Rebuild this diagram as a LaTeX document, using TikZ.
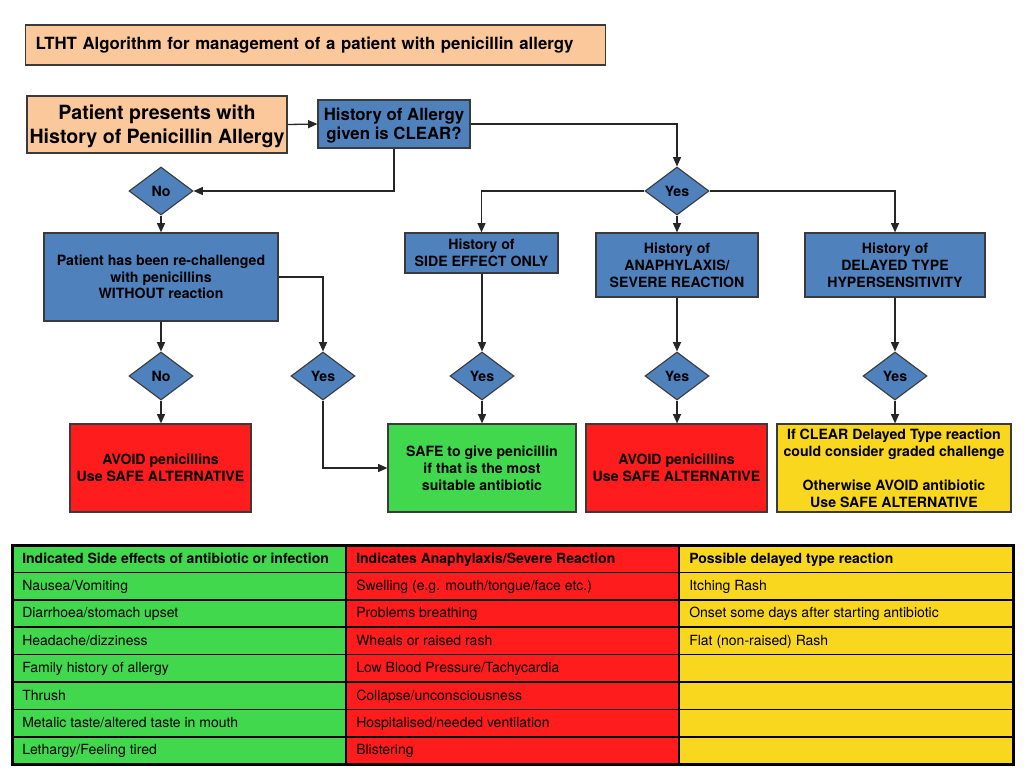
\documentclass[tikz,border=0pt]{standalone}
\usepackage{fontspec}
\setmainfont{TeX Gyre Heros}
\usetikzlibrary{shapes.geometric,arrows.meta}
\newlength\px
\setlength\px{0.75pt}
\definecolor{peach}{HTML}{FAC89A}
\definecolor{fblue}{HTML}{4F81BD}
\definecolor{fred}{HTML}{FF1C1C}
\definecolor{fgreen}{HTML}{42D84E}
\definecolor{fyellow}{HTML}{F9D71F}
\definecolor{edge}{HTML}{3A3A3A}
\tikzset{
  box/.style={draw=edge, line width=1.2\px, inner sep=1\px, align=center, font=\bfseries\fontsize{10.6}{12.7}\selectfont},
  bluebox/.style={box, fill=fblue},
  dia/.style={diamond, draw=edge, line width=1.1\px, fill=fblue, aspect=1.333, inner sep=0pt, minimum width=64\px, minimum height=48\px, font=\bfseries\fontsize{10.6}{12}\selectfont},
  arr/.style={draw=black!85, line width=1.3\px, -{Triangle[length=7pt,width=6pt]}},
  ln/.style={draw=black!85, line width=1.3\px},
  cell/.style={anchor=base west, inner sep=0pt, font=\fontsize{10.5}{12}\selectfont},
  hcell/.style={cell, font=\bfseries\fontsize{10.5}{12}\selectfont}
}
\begin{document}
\begin{tikzpicture}[x=\px, y=-\px]
\useasboundingbox[fill=white] (0,0) rectangle (1024,768);

% title
\node[box, fill=peach, anchor=west, text width=560\px, align=left, inner xsep=10\px, minimum height=40\px, font=\bfseries\fontsize{12.6}{14}\selectfont] (title) at (25,45) {LTHT Algorithm for management of a patient with penicillin allergy};

% top row
\node[box, fill=peach, minimum width=260\px, minimum height=57\px, inner xsep=0pt, text depth=0pt, font=\bfseries\fontsize{14.7}{18}\selectfont] (patient) at (157,124.5) {Patient presents with\\History of Penicillin Allergy};
\node[bluebox, minimum width=152\px, minimum height=48\px, inner xsep=0pt, text depth=0pt, font=\bfseries\fontsize{12.6}{14.3}\selectfont] (allergy) at (394,124) {History of Allergy\\given is CLEAR?};

\node[dia] (no1) at (161,191) {No};
\node[dia] (yes1) at (677,191) {Yes};

\node[bluebox, minimum width=234\px, minimum height=88\px, font=\bfseries\fontsize{10.6}{12.4}\selectfont] (rech) at (161,277) {Patient has been re-challenged\\with penicillins\\WITHOUT reaction};
\node[bluebox, minimum width=153\px, minimum height=40\px] (side) at (481.5,253) {History of\\SIDE EFFECT ONLY};
\node[bluebox, minimum width=162\px, minimum height=64\px] (ana) at (677,265) {History of\\ANAPHYLAXIS/\\SEVERE REACTION};
\node[bluebox, minimum width=180\px, minimum height=64\px] (del) at (895,265) {History of\\DELAYED TYPE\\HYPERSENSITIVITY};

\node[dia] (no2) at (161,376) {No};
\node[dia] (yes2) at (323,376) {Yes};
\node[dia] (yes3) at (482,376) {Yes};
\node[dia] (yes4) at (677,376) {Yes};
\node[dia] (yes5) at (895,376) {Yes};

\node[box, fill=fred, minimum width=181\px, minimum height=88\px] (avoid1) at (160.5,468) {AVOID penicillins\\Use SAFE ALTERNATIVE};
\node[box, fill=fgreen, minimum width=188\px, minimum height=88\px] (safe) at (482,468) {SAFE to give penicillin\\if that is the most\\suitable antibiotic};
\node[box, fill=fred, minimum width=181\px, minimum height=88\px] (avoid2) at (676.5,468) {AVOID penicillins\\Use SAFE ALTERNATIVE};
\node[box, fill=fyellow, minimum width=234\px, minimum height=88\px] (yel) at (894,468) {If CLEAR Delayed Type reaction\\could consider graded challenge\\[\baselineskip]Otherwise AVOID antibiotic\\Use SAFE ALTERNATIVE};

% connectors
\draw[arr] (patient.east) -- (allergy.west);
\draw[arr] (allergy.east) -| (yes1.north);
\draw[arr] (allergy.south) |- (no1.east);
\draw[arr] (no1.south) -- (rech.north);
\draw[arr] (yes1.west) -| (side.north);
\draw[arr] (yes1.south) -- (ana.north);
\draw[arr] (yes1.east) -| (del.north);
\draw[arr] (rech.east) -| (yes2.north);
\draw[arr] (rech.south) -- (no2.north);
\draw[arr] (side.south -| yes3.north) -- (yes3.north);
\draw[arr] (ana.south) -- (yes4.north);
\draw[arr] (del.south) -- (yes5.north);
\draw[arr] (no2.south) -- (no2.south |- avoid1.north);
\draw[arr] (yes2.south) |- (safe.west);
\draw[arr] (yes3.south) -- (safe.north);
\draw[arr] (yes4.south) -- (yes4.south |- avoid2.north);
\draw[arr] (yes5.south) -- (yes5.south |- yel.north);

% table
\fill[fgreen] (12,545) rectangle (346,764);
\fill[fred] (346,545) rectangle (679,764);
\fill[fyellow] (679,545) rectangle (1013,764);
\foreach \k in {1,...,7} {
  \draw[black, line width=1.5\px] (12,545+\k*27.4) -- (1013,545+\k*27.4);
}
\draw[black, line width=1.5\px] (346,545) -- (346,764);
\draw[black, line width=1.5\px] (679,545) -- (679,764);
\draw[black, line width=3\px] (12,545) rectangle (1013,764);

\node[hcell] (h1) at (22,563) {Indicated Side effects of antibiotic or infection};
\node[hcell] (h2) at (356,563) {Indicates Anaphylaxis/Severe Reaction};
\node[hcell] (h3) at (689,563) {Possible delayed type reaction};

\foreach \t [count=\i] in {Nausea/Vomiting, Diarrhoea/stomach upset, Headache/dizziness, Family history of allergy, Thrush, Metalic taste/altered taste in mouth, Lethargy/Feeling tired} {
  \node[cell] (a\i) at (22,563+\i*27.4) {\t};
}
\foreach \t [count=\i] in {{Swelling (e.g. mouth/tongue/face etc.)}, Problems breathing, Wheals or raised rash, Low Blood Pressure/Tachycardia, Collapse/unconsciousness, Hospitalised/needed ventilation, Blistering} {
  \node[cell] (b\i) at (356,563+\i*27.4) {\t};
}
\foreach \t [count=\i] in {Itching Rash, Onset some days after starting antibiotic, {Flat (non-raised) Rash}} {
  \node[cell] (c\i) at (689,563+\i*27.4) {\t};
}
\end{tikzpicture}
\end{document}
